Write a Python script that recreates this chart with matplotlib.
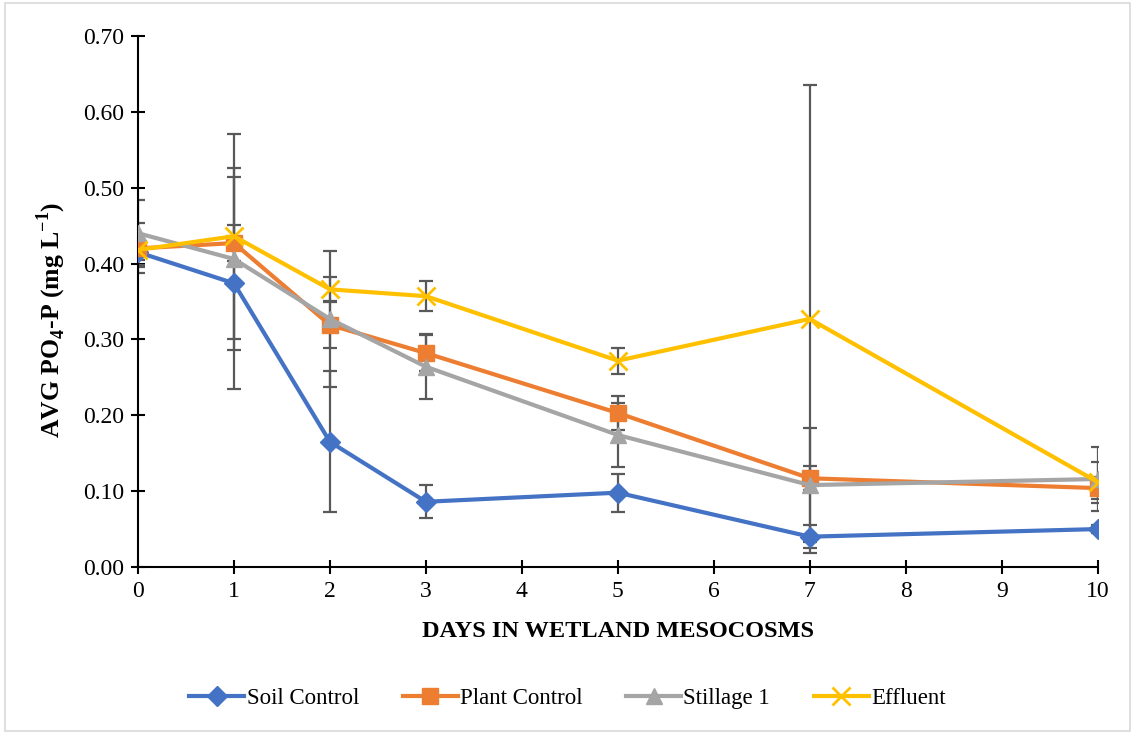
import matplotlib.pyplot as plt
from matplotlib.patches import Rectangle

plt.rcParams['font.family'] = ['Liberation Serif', 'DejaVu Serif']
plt.rcParams['mathtext.fontset'] = 'custom'
plt.rcParams['mathtext.rm'] = 'Liberation Serif'
plt.rcParams['mathtext.bf'] = 'Liberation Serif:bold'

days = [0, 1, 2, 3, 5, 7, 10]

soil = [0.415, 0.374, 0.165, 0.086, 0.098, 0.040, 0.050]
soil_err = [0.010, 0.140, 0.093, 0.022, 0.025, 0.015, 0.005]

plant = [0.420, 0.427, 0.319, 0.282, 0.203, 0.117, 0.104]
plant_err = [0.033, 0.024, 0.030, 0.024, 0.022, 0.016, 0.015]

still = [0.440, 0.406, 0.327, 0.264, 0.174, 0.108, 0.116]
still_err = [0.044, 0.120, 0.090, 0.043, 0.042, 0.075, 0.042]

effl = [0.418, 0.436, 0.366, 0.357, 0.272, 0.327, 0.112]
effl_err = [0.020, 0.135, 0.016, 0.020, 0.017, 0.308, 0.027]

names = ["Soil Control", "Plant Control", "Stillage 1", "Effluent"]
colors = ["#4472C4", "#ED7D31", "#A5A5A5", "#FFC000"]
markers = ["D", "s", "^", "x"]

fig = plt.figure(figsize=(11.35, 7.34), dpi=100)
ax = fig.add_axes([0.1216, 0.2275, 0.8455, 0.7235])

series = [(soil, soil_err), (plant, plant_err), (still, still_err), (effl, effl_err)]
for (vals, errs), name, c, m in zip(series, names, colors, markers):
    ax.errorbar(days, vals, yerr=errs, fmt='none', ecolor='#595959',
                elinewidth=1.6, capsize=5, capthick=1.6, zorder=2)
    ms = {"D": 10, "s": 11, "^": 11, "x": 13}[m]
    ax.plot(days, vals, color=c, marker=m, markersize=ms, linewidth=3,
            markeredgewidth=2 if m == "x" else 1, label=name, zorder=3)

ax.set_xlim(0, 10)
ax.set_ylim(0, 0.70)
ax.set_xticks(range(0, 11))
ax.set_yticks([i / 10 for i in range(8)])
ax.set_yticklabels(["%.2f" % (i / 10) for i in range(8)])
ax.spines['top'].set_visible(False)
ax.spines['right'].set_visible(False)
ax.spines['left'].set_linewidth(1.5)
ax.spines['bottom'].set_linewidth(1.5)
ax.tick_params(direction='inout', length=10, width=1.5, labelsize=17, pad=5)

ax.set_xlabel("DAYS IN WETLAND MESOCOSMS", fontsize=17.5, fontweight='bold', labelpad=14)
ax.set_ylabel(r"AVG PO$_\mathbf{4}$-P (mg L$^\mathbf{-1}$)", fontsize=18.5,
              fontweight='bold')
ax.yaxis.set_label_coords(-0.073, 0.465)

fig.legend(loc='center', bbox_to_anchor=(0.5, 0.048), ncol=4, frameon=False,
           fontsize=16.5, handlelength=2.4, handletextpad=0.1, columnspacing=1.9)

fig.patches.append(Rectangle((0.004, 0.004), 0.992, 0.992, transform=fig.transFigure,
                             fill=False, edgecolor='#D9D9D9', linewidth=1.2))

fig.savefig("out.png", dpi=100)
